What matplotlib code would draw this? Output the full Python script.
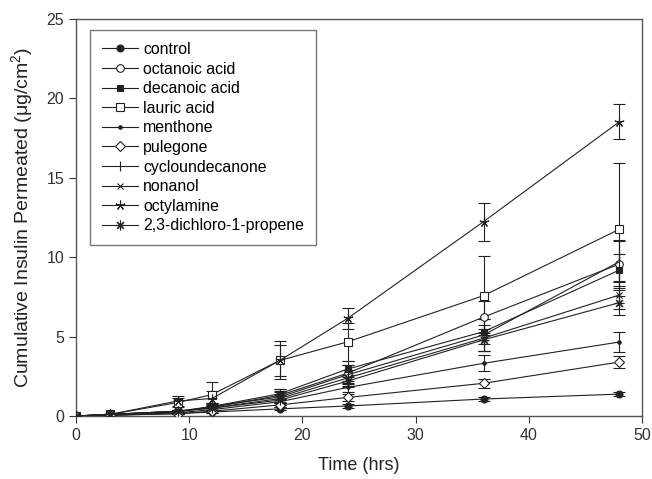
import matplotlib
matplotlib.use("Agg")
import matplotlib.pyplot as plt

plt.rcParams['font.family'] = ['Liberation Sans', 'DejaVu Sans']
plt.rcParams['mathtext.fontset'] = 'custom'
plt.rcParams['mathtext.rm'] = 'Liberation Sans'
plt.rcParams['mathtext.it'] = 'Liberation Sans'

times = [0, 3, 9, 12, 18, 24, 36, 48]

labels = ["control", "octanoic acid", "decanoic acid", "lauric acid", "menthone",
          "pulegone", "cycloundecanone", "nonanol", "octylamine", "2,3-dichloro-1-propene"]

control = [0, 0.05, 0.15, 0.25, 0.45, 0.63, 1.07, 1.38]
octanoic = [0, 0.1, 0.3, 0.55, 1.3, 2.7, 6.23, 9.57]
decanoic = [0, 0.1, 0.25, 0.6, 1.4, 2.96, 5.31, 9.19]
lauric = [0, 0.1, 0.85, 1.35, 3.5, 4.67, 7.58, 11.76]
menthone = [0, 0.05, 0.2, 0.4, 0.9, 1.8, 3.32, 4.66]
pulegone = [0, 0.05, 0.15, 0.3, 0.7, 1.17, 2.06, 3.40]
cycloundecanone = [0, 0.1, 0.3, 0.6, 1.2, 2.6, 5.1, 9.72]
nonanol = [0, 0.1, 0.3, 0.5, 1.1, 2.4, 4.9, 7.62]
octylamine = [0, 0.1, 0.95, 1.1, 3.5, 6.15, 12.24, 18.53]
dichloro = [0, 0.1, 0.3, 0.5, 1.0, 2.2, 4.8, 7.14]

err_control = [0, 0.02, 0.05, 0.05, 0.1, 0.1, 0.15, 0.15]
err_octanoic = [0, 0.05, 0.1, 0.2, 0.4, 0.5, 1.0, 1.5]
err_decanoic = [0, 0.05, 0.1, 0.2, 0.3, 0.5, 0.8, 1.0]
err_lauric = [0, 0.05, 0.3, 0.8, 1.2, 1.2, 2.5, 4.2]
err_menthone = [0, 0.02, 0.05, 0.1, 0.2, 0.3, 0.5, 0.6]
err_pulegone = [0, 0.02, 0.05, 0.1, 0.15, 0.2, 0.3, 0.4]
err_cyclo = [0, 0.05, 0.1, 0.2, 0.4, 0.6, 1.0, 1.3]
err_nonanol = [0, 0.05, 0.1, 0.2, 0.4, 0.5, 0.8, 0.9]
err_octylamine = [0, 0.05, 0.3, 0.5, 1.0, 0.65, 1.2, 1.1]
err_dichloro = [0, 0.05, 0.1, 0.2, 0.3, 0.4, 0.7, 0.8]

series = [control, octanoic, decanoic, lauric, menthone, pulegone,
          cycloundecanone, nonanol, octylamine, dichloro]
errors = [err_control, err_octanoic, err_decanoic, err_lauric, err_menthone,
          err_pulegone, err_cyclo, err_nonanol, err_octylamine, err_dichloro]

# marker, filled, size
styles = [('o', True, 5), ('o', False, 5.5), ('s', True, 5), ('s', False, 5.5),
          ('o', True, 2.5), ('D', False, 5), ('|', True, 7), ('x', True, 5),
          ((5, 2, 0), True, 7), ((8, 2, 0), True, 7)]

fig = plt.figure(figsize=(6.52, 4.79), dpi=100)
ax = fig.add_axes([0.1166, 0.1315, 0.8681, 0.8288])

lc = '#222222'
handles = []
for vals, errs, lab, (m, filled, ms) in zip(series, errors, labels, styles):
    ax.errorbar(times, vals, yerr=errs, fmt='none', ecolor=lc, elinewidth=0.8,
                capsize=4, capthick=0.8, zorder=2)
    h, = ax.plot(times, vals, color=lc, lw=0.8, marker=m, ms=ms,
                 markerfacecolor=(lc if filled else 'white'), markeredgecolor=lc,
                 markeredgewidth=0.8, label=lab, zorder=3)
    handles.append(h)

ax.set_xlim(0, 50)
ax.set_ylim(0, 25)
ax.set_xticks([0, 10, 20, 30, 40, 50])
ax.set_yticks([0, 5, 10, 15, 20, 25])
ax.tick_params(direction='out', length=5, width=0.8, labelsize=11.5, colors='#333333')
for s in ax.spines.values():
    s.set_color('#555555')
    s.set_linewidth(1.0)

ax.set_xlabel('Time (hrs)', fontsize=13, labelpad=10, color='#222222')
ax.set_ylabel(r'Cumulative Insulin Permeated ($\mathrm{\mu}$g/cm$^2$)', fontsize=14,
              labelpad=8, color='#222222')

leg = ax.legend(handles=handles, loc='upper left', bbox_to_anchor=(0.0247, 0.972),
                borderaxespad=0, frameon=True, fancybox=False, edgecolor='#555555',
                fontsize=11.4, handlelength=2.3, labelspacing=0.29, borderpad=0.75,
                handletextpad=0.3)
leg.get_frame().set_linewidth(1.0)

fig.savefig('out.png', dpi=100)
